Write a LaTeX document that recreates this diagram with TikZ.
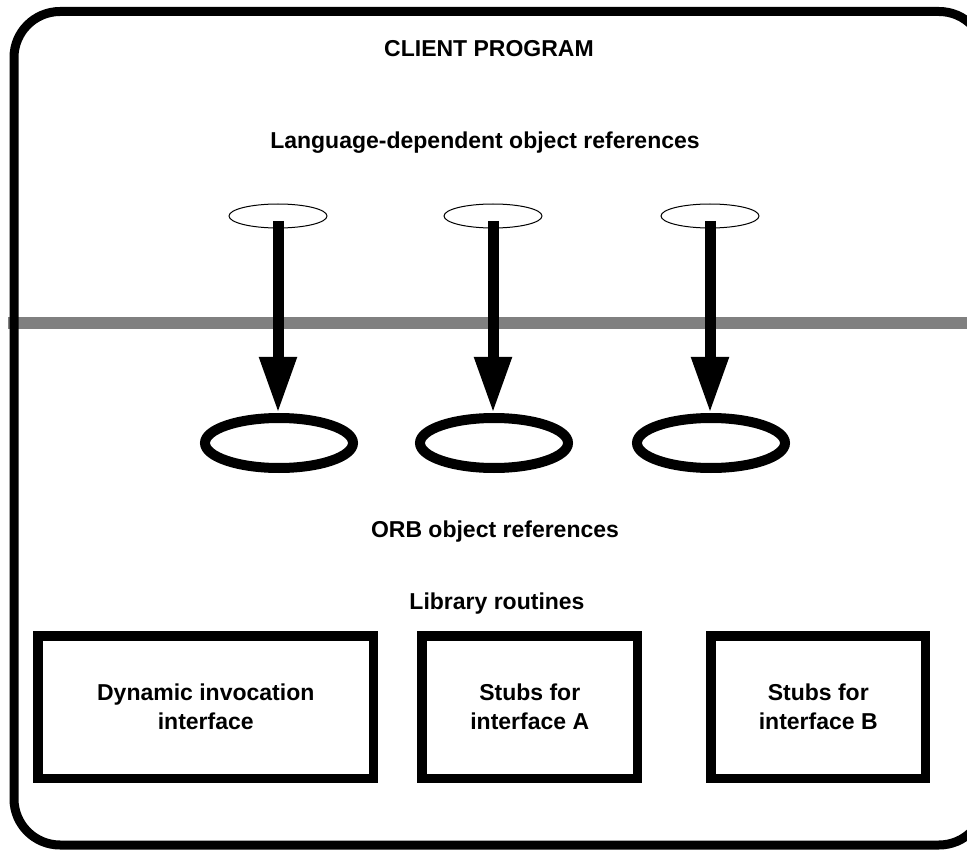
\documentclass[tikz,border=0pt]{standalone}
\usepackage{fontspec}
\setmainfont{Liberation Sans}
\usetikzlibrary{shapes.geometric,arrows.meta}
\begin{document}
\begin{tikzpicture}[x=1pt,y=-1pt,
  txt/.style={font=\fontsize{23}{29}\selectfont\bfseries, inner sep=0pt},
  lbl/.style={txt, anchor=base},
  smallell/.style={ellipse, draw, line width=1pt, minimum width=98pt, minimum height=24pt, inner sep=0pt},
  bigell/.style={ellipse, draw, line width=10pt, minimum width=148pt, minimum height=50pt, inner sep=0pt},
  refarrow/.style={line width=11pt, -{Triangle[width=35pt,length=56pt]}},
  libbox/.style={draw, line width=9.5pt, rectangle, align=center, txt, minimum height=142.5pt},
  divider/.style={line width=12pt, draw=black!50},
  frame/.style={line width=9pt, rounded corners=46pt}
]
\useasboundingbox (0,0) rectangle (967,850);
\clip (0,0) rectangle (967,850);

% divider line
\coordinate (gl) at (8,323);
\coordinate (gr) at (980,323);
\draw[divider] (gl) -- (gr);

% outer frame
\draw[frame] (14,11.5) rectangle (985,845);

% labels
\node[lbl] (title) at (489,57) {CLIENT PROGRAM};
\node[lbl] (langref) at (485,149) {Language-dependent object references};
\node[lbl] (orbref) at (495,537) {ORB object references};
\node[lbl] (lib) at (497,609) {Library routines};

% small ellipses (language-dependent refs)
\node[smallell] (s1) at (278,216) {};
\node[smallell] (s2) at (493,216) {};
\node[smallell] (s3) at (710,216) {};

% big ellipses (ORB refs)
\node[bigell] (b1) at (279,443) {};
\node[bigell] (b2) at (494,443) {};
\node[bigell] (b3) at (711,443) {};

% arrows
\draw[refarrow] ([yshift=-5pt]s1.center) -- (s1.center |- b1.north);
\draw[refarrow] ([yshift=-5pt]s2.center) -- (s2.center |- b2.north);
\draw[refarrow] ([yshift=-5pt]s3.center) -- (s3.center |- b3.north);

% library boxes
\node[libbox, minimum width=335.5pt] (dii) at (205.75,707.25) {Dynamic invocation\\interface};
\node[libbox, minimum width=215.5pt] (stubA) at (529.75,707.25) {Stubs for\\interface A};
\node[libbox, minimum width=214.5pt] (stubB) at (818.25,707.25) {Stubs for\\interface B};
\end{tikzpicture}
\end{document}
